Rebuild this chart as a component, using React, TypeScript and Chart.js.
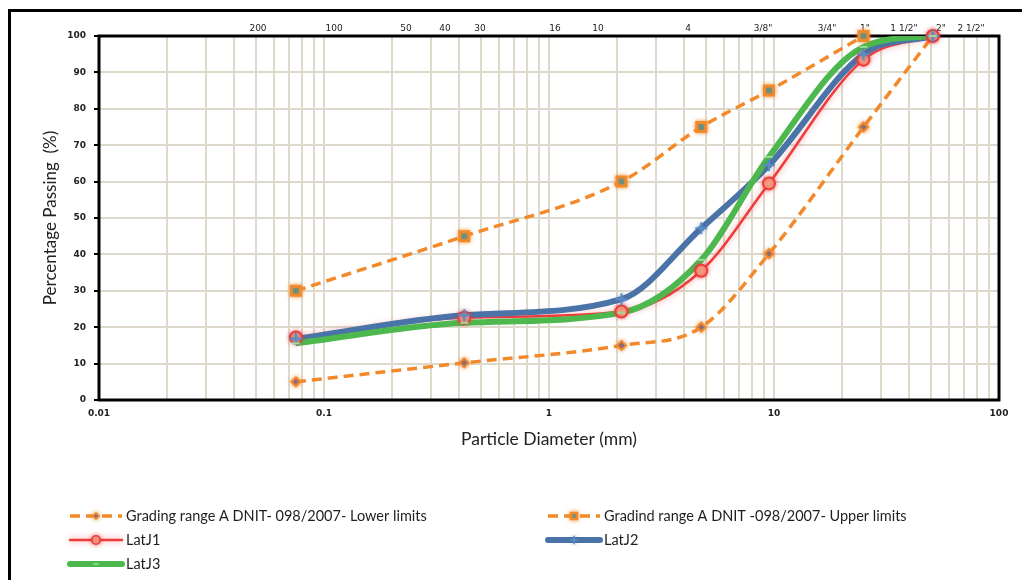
import React, { useEffect, useRef } from 'react';
import { Chart, registerables } from 'chart.js';

Chart.register(...registerables);

// ---- data ----
const sieveSizes = [0.075, 0.42, 2.1, 4.75, 9.5, 25, 50.8];
const upperSizes = [0.075, 0.42, 2.1, 4.75, 9.5, 25];
const lowerLimits = [5, 10.2, 15, 20, 40.2, 75, 100];
const upperLimits = [30, 45, 60, 75, 85, 100];
const latJ1 = [17.2, 22.6, 24.3, 35.5, 59.5, 93.5, 100];
const latJ2 = [16.8, 23.3, 27.7, 47.2, 64.5, 95, 100];
const latJ3 = [15.6, 21.2, 24, 38.5, 66.8, 97, 100];

const xDecadeValues = [0.01, 0.1, 1, 10, 100];
const xDecadeLabels = ['0.01', '0.1', '1', '10', '100'];
const yTickValues = [0, 10, 20, 30, 40, 50, 60, 70, 80, 90, 100];

const topTickValues = [0.0509, 0.1108, 0.2313, 0.345, 0.4936, 1.063, 1.651, 4.147, 8.935, 17.2, 25.38, 37.8, 55.2, 75.1];
const topTickLabels = ['200', '100', '50', '40', '30', '16', '10', '4', '3/8"', '3/4"', '1"', '1 1/2"', '2"', '2 1/2"'];

const seriesNames = [
  'Grading range A DNIT- 098/2007- Lower limits',
  'Gradind range A DNIT -098/2007- Upper limits',
  'LatJ1',
  'LatJ2',
  'LatJ3',
];

const ORANGE = '#F28A2C';
const RED = '#EE3B3B';
const BLUE = '#4A74A8';
const GREEN = '#4DB84D';
const GRID = '#DDDACB';

const toPts = (xs: number[], ys: number[]) => xs.map((x, i) => ({ x, y: ys[i] }));

function drawMarker(ctx: CanvasRenderingContext2D, m: any, x: number, y: number, scale = 1) {
  ctx.save();
  ctx.shadowColor = m.glow || 'transparent';
  ctx.shadowBlur = m.glow ? 4 : 0;
  ctx.fillStyle = m.bg;
  ctx.strokeStyle = m.border;
  ctx.lineWidth = m.borderWidth * (scale < 1 ? 0.8 : 1);
  const r = m.radius * scale;
  ctx.beginPath();
  if (m.style === 'circle') {
    ctx.arc(x, y, r, 0, Math.PI * 2);
    ctx.fill();
    ctx.stroke();
  } else if (m.style === 'rect') {
    ctx.rect(x - r, y - r, 2 * r, 2 * r);
    ctx.fill();
    ctx.stroke();
  } else if (m.style === 'rectRot') {
    ctx.moveTo(x, y - r);
    ctx.lineTo(x + r, y);
    ctx.lineTo(x, y + r);
    ctx.lineTo(x - r, y);
    ctx.closePath();
    ctx.fill();
    ctx.stroke();
  } else if (m.style === 'star') {
    ctx.moveTo(x - r, y);
    ctx.lineTo(x + r, y);
    ctx.moveTo(x, y - r);
    ctx.lineTo(x, y + r);
    ctx.stroke();
    ctx.beginPath();
    ctx.moveTo(x, y - r * 0.45);
    ctx.lineTo(x + r * 0.45, y);
    ctx.lineTo(x, y + r * 0.45);
    ctx.lineTo(x - r * 0.45, y);
    ctx.closePath();
    ctx.fillStyle = m.bg;
    ctx.fill();
  } else if (m.style === 'dash') {
    ctx.moveTo(x - r, y);
    ctx.lineTo(x + r, y);
    ctx.stroke();
  }
  ctx.restore();
}

const framePlugin = {
  id: 'frame',
  beforeDraw(chart: any) {
    const ctx = chart.ctx;
    ctx.save();
    ctx.fillStyle = '#fff';
    ctx.fillRect(0, 0, chart.width, chart.height);
    ctx.fillStyle = '#000';
    ctx.fillRect(8, 9, chart.width - 8, 3);
    ctx.fillRect(8, 9, 3, chart.height - 9);
    ctx.restore();
  },
  beforeDatasetsDraw(chart: any) {
    const { ctx, chartArea } = chart;
    ctx.save();
    ctx.strokeStyle = '#000';
    ctx.lineWidth = 3;
    ctx.strokeRect(chartArea.left, chartArea.top, chartArea.right - chartArea.left, chartArea.bottom - chartArea.top);
    ctx.restore();
  },
  beforeDatasetDraw(chart: any, args: any) {
    const ds = chart.data.datasets[args.index];
    if (ds.glow) {
      chart.ctx.save();
      chart.ctx.shadowColor = ds.glow;
      chart.ctx.shadowBlur = 6;
    }
  },
  afterDatasetDraw(chart: any, args: any) {
    const ds = chart.data.datasets[args.index];
    if (ds.glow) chart.ctx.restore();
  },
  afterDatasetsDraw(chart: any) {
    const ctx = chart.ctx;
    chart.data.datasets.forEach((ds: any, i: number) => {
      const meta = chart.getDatasetMeta(i);
      meta.data.forEach((pt: any) => drawMarker(ctx, ds.marker, pt.x, pt.y));
    });
  },
  afterDraw(chart: any) {
    const ctx = chart.ctx;
    const slots = [
      { x: 70, y: 516 },
      { x: 548, y: 516 },
      { x: 70, y: 540 },
      { x: 548, y: 540 },
      { x: 70, y: 564 },
    ];
    ctx.save();
    chart.data.datasets.forEach((ds: any, i: number) => {
      const s = slots[i];
      ctx.save();
      ctx.strokeStyle = ds.borderColor;
      ctx.lineWidth = ds.borderWidth;
      ctx.lineCap = ds.borderDash ? 'butt' : 'round';
      ctx.setLineDash(ds.borderDash || []);
      if (ds.glow) {
        ctx.shadowColor = ds.glow;
        ctx.shadowBlur = 6;
      }
      ctx.beginPath();
      ctx.moveTo(s.x, s.y);
      ctx.lineTo(s.x + 52, s.y);
      ctx.stroke();
      ctx.restore();
      drawMarker(ctx, ds.marker, s.x + 26, s.y, 0.7);
      ctx.fillStyle = '#1e1e1e';
      ctx.font = '14.5px Lato';
      ctx.textBaseline = 'middle';
      ctx.textAlign = 'left';
      ctx.fillText(ds.label, s.x + 56, s.y);
    });
    ctx.restore();
  },
};

export default function App() {
  const ref = useRef<HTMLCanvasElement | null>(null);

  useEffect(() => {
    if (!ref.current) return;
    const minorTicks: number[] = [];
    xDecadeValues.forEach((d, i) => {
      if (i === xDecadeValues.length - 1) {
        minorTicks.push(d);
        return;
      }
      for (let k = 1; k <= 9; k++) minorTicks.push(d * k);
    });

    const chart = new Chart(ref.current, {
      type: 'line',
      data: {
        datasets: [
          {
            label: seriesNames[0],
            data: toPts(sieveSizes, lowerLimits),
            borderColor: ORANGE,
            borderWidth: 3.5,
            borderDash: [10, 6],
            pointRadius: 0,
            order: 5,
            marker: { style: 'rectRot', radius: 4.5, bg: '#5E5AA0', border: ORANGE, borderWidth: 2, glow: 'rgba(242,138,44,0.8)' },
          },
          {
            label: seriesNames[1],
            data: toPts(upperSizes, upperLimits),
            borderColor: ORANGE,
            borderWidth: 3.5,
            borderDash: [10, 6],
            pointRadius: 0,
            order: 4,
            marker: { style: 'rect', radius: 4.5, bg: '#2F93A3', border: ORANGE, borderWidth: 3, glow: 'rgba(242,138,44,0.8)' },
          },
          {
            label: seriesNames[2],
            data: toPts(sieveSizes, latJ1),
            borderColor: RED,
            borderWidth: 2.5,
            pointRadius: 0,
            order: 3,
            glow: 'rgba(238,59,59,0.55)',
            marker: { style: 'circle', radius: 6, bg: '#F4A283', border: RED, borderWidth: 2, glow: 'rgba(238,59,59,0.6)' },
          },
          {
            label: seriesNames[3],
            data: toPts(sieveSizes, latJ2),
            borderColor: BLUE,
            borderWidth: 6,
            pointRadius: 0,
            order: 2,
            marker: { style: 'star', radius: 6, bg: '#5B8CC8', border: '#5B8CC8', borderWidth: 2, glow: 'rgba(74,116,168,0.5)' },
          },
          {
            label: seriesNames[4],
            data: toPts(sieveSizes, latJ3),
            borderColor: GREEN,
            borderWidth: 6,
            pointRadius: 0,
            order: 1,
            marker: { style: 'dash', radius: 4, bg: '#9CD89B', border: '#9CD89B', borderWidth: 2, glow: null },
          },
        ] as any,
      },
      options: {
        animation: false,
        responsive: false,
        devicePixelRatio: 1,
        parsing: false as any,
        layout: { padding: { left: 0, right: 23, top: 0, bottom: 120 } },
        elements: { line: { cubicInterpolationMode: 'monotone', fill: false } },
        plugins: { legend: { display: false }, tooltip: { enabled: false } },
        scales: {
          x: {
            type: 'logarithmic',
            position: 'bottom',
            min: 0.01,
            max: 100,
            afterBuildTicks: (scale: any) => {
              scale.ticks = minorTicks.map((v) => ({ value: v, major: xDecadeValues.includes(v) }));
            },
            afterFit: (scale: any) => {
              scale.height = 60;
            },
            grid: { color: GRID, lineWidth: 2, drawTicks: false },
            border: { display: false },
            ticks: {
              autoSkip: false,
              maxRotation: 0,
              minRotation: 0,
              padding: 8,
              color: '#222',
              font: { family: 'DejaVu Sans', size: 9, weight: 'bold' },
              callback: (v: any) => {
                const idx = xDecadeValues.indexOf(Number(v));
                return idx >= 0 ? xDecadeLabels[idx] : '';
              },
            },
            title: {
              display: true,
              text: 'Particle Diameter (mm)',
              color: '#222',
              font: { family: 'Lato', size: 17.5 },
              padding: { top: 0, bottom: 10 },
            },
          },
          x2: {
            type: 'logarithmic',
            position: 'top',
            min: 0.01,
            max: 100,
            afterBuildTicks: (scale: any) => {
              scale.ticks = topTickValues.map((v) => ({ value: v }));
            },
            afterFit: (scale: any) => {
              scale.height = 36;
            },
            grid: { display: false, drawTicks: false },
            border: { display: false },
            ticks: {
              autoSkip: false,
              maxRotation: 0,
              minRotation: 0,
              padding: 2,
              color: '#222',
              font: { family: 'DejaVu Sans', size: 9 },
              callback: (_v: any, i: number) => topTickLabels[i],
            },
          },
          y: {
            type: 'linear',
            min: 0,
            max: 100,
            afterBuildTicks: (scale: any) => {
              scale.ticks = yTickValues.map((v) => ({ value: v }));
            },
            afterFit: (scale: any) => {
              scale.width = 99;
            },
            grid: { color: GRID, lineWidth: 2, tickColor: '#000', tickLength: 5, tickWidth: 2 },
            border: { display: false },
            ticks: {
              padding: 8,
              color: '#222',
              font: { family: 'DejaVu Sans', size: 9, weight: 'bold' },
            },
            title: {
              display: true,
              text: 'Percentage Passing  (%)',
              color: '#222',
              font: { family: 'Lato', size: 17 },
              padding: { top: 40, bottom: 0 },
            },
          },
        },
      } as any,
      plugins: [framePlugin],
    });
    return () => chart.destroy();
  }, []);

  return (
    <div style={{ position: 'fixed', left: 0, top: 0, width: 1022, height: 580, background: '#fff' }}>
      <canvas ref={ref} width={1022} height={580} style={{ display: 'block', width: 1022, height: 580 }} />
    </div>
  );
}
